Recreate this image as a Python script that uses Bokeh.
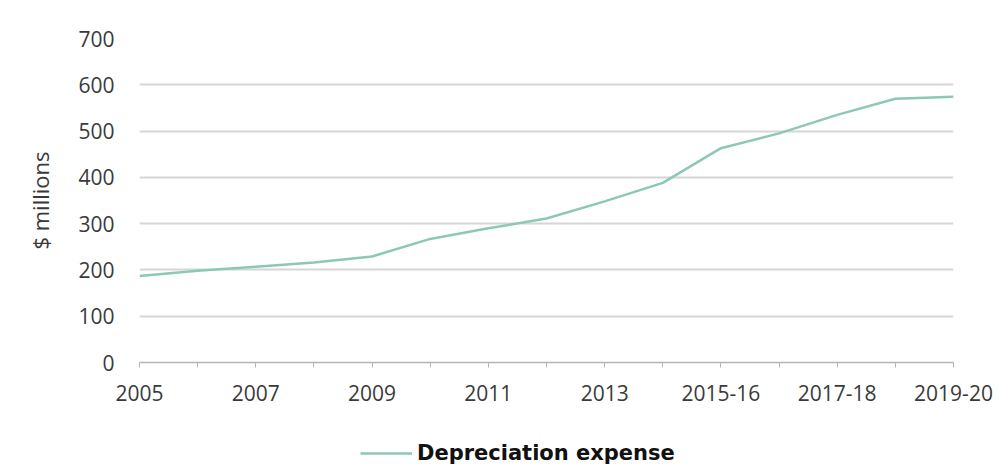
from bokeh.plotting import figure
from bokeh.models import Range1d, FixedTicker, Legend, LegendItem
from bokeh.layouts import column
from bokeh.embed import file_html
from bokeh.resources import INLINE

# ---- data ----
periods = ["2005", "2006", "2007", "2008", "2009", "2010", "2011", "2012", "2013", "2014",
           "2015-16", "2016-17", "2017-18", "2018-19", "2019-20"]
depreciation = [187, 198, 207, 216, 229, 267, 290, 311, 348, 388, 463, 495, 535, 570, 574]
y_ticks = [0, 100, 200, 300, 400, 500, 600, 700]
series_name = "Depreciation expense"
y_title = "$ millions"

FONT = "Open Sans"
TXT = "#3a3a3a"
LINE_COLOR = "#8cc9b5"

idx = list(range(len(periods)))

p = figure(width=1005, height=418, output_backend="svg", toolbar_location=None,
           x_range=Range1d(0, len(periods) - 1), y_range=Range1d(0, 700),
           min_border_left=139, min_border_right=52, min_border_top=38, min_border_bottom=56)
p.outline_line_color = None
p.background_fill_color = "white"
p.border_fill_color = "white"

p.line(idx, depreciation, line_color=LINE_COLOR, line_width=2.5)

# x axis
p.xaxis.ticker = FixedTicker(ticks=idx)
p.xaxis.major_label_overrides = {i: (periods[i] if i % 2 == 0 else "") for i in idx}
p.xaxis.axis_line_color = "#b5b5b5"
p.xaxis.axis_line_width = 1.5
p.xaxis.major_tick_line_color = "#b5b5b5"
p.xaxis.major_tick_out = 5
p.xaxis.major_tick_in = 0
p.xaxis.minor_tick_line_color = None
p.xaxis.major_label_standoff = 17
p.xaxis.major_label_text_font = FONT
p.xaxis.major_label_text_font_size = "21px"
p.xaxis.major_label_text_color = TXT

# y axis
p.yaxis.ticker = FixedTicker(ticks=y_ticks)
p.yaxis.axis_line_color = None
p.yaxis.major_tick_line_color = None
p.yaxis.minor_tick_line_color = None
p.yaxis.major_label_standoff = 19
p.yaxis.major_label_text_font = FONT
p.yaxis.major_label_text_font_size = "21px"
p.yaxis.major_label_text_color = TXT
p.yaxis.axis_label = y_title
p.yaxis.axis_label_text_font = FONT
p.yaxis.axis_label_text_font_size = "22px"
p.yaxis.axis_label_text_font_style = "normal"
p.yaxis.axis_label_text_color = TXT
p.yaxis.axis_label_standoff = 20

p.xgrid.grid_line_color = None
p.ygrid.grid_line_color = "#d6d6d6"
p.ygrid.grid_line_width = 2

# ---- legend strip below the chart (same series, drawn out of view; only its key shows) ----
lg = figure(width=1005, height=50, output_backend="svg", toolbar_location=None,
            x_range=Range1d(0, len(periods) - 1), y_range=Range1d(0, 1),
            x_axis_type=None, y_axis_type=None, min_border=0)
lg.outline_line_color = None
lg.xgrid.grid_line_color = None
lg.ygrid.grid_line_color = None
key = lg.line(idx, depreciation, line_color=LINE_COLOR, line_width=2.5)

legend = Legend(items=[LegendItem(label=series_name, renderers=[key])],
                location=(221, 3), orientation="horizontal",
                padding=0, margin=0, spacing=0,
                glyph_width=52, glyph_height=24, label_height=24, label_standoff=5,
                border_line_color=None, background_fill_alpha=0)
legend.label_text_font = "DejaVu Sans"
legend.label_text_font_style = "bold"
legend.label_text_font_size = "21px"
legend.label_text_color = "#111111"
lg.add_layout(legend, "center")

layout = column(p, lg, spacing=0)
open("out.html", "w").write(file_html(layout, INLINE))
